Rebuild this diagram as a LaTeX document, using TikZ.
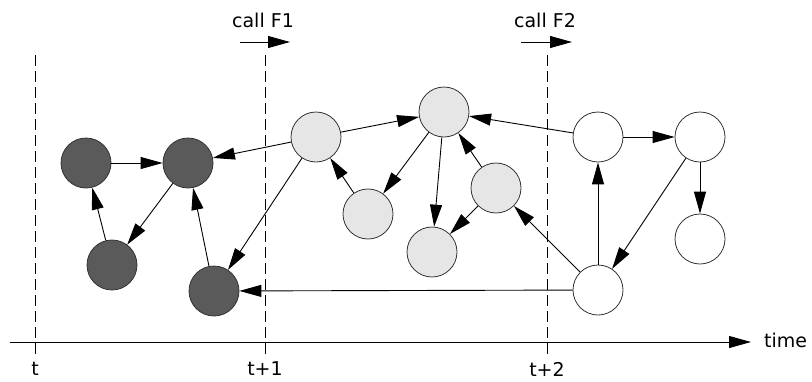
\documentclass[tikz,border=0pt]{standalone}
\usepackage{fontspec}
\setmainfont{DejaVu Sans}
\usetikzlibrary{arrows.meta}
\definecolor{darkfill}{HTML}{5A5A5A}
\definecolor{lightfill}{HTML}{E6E6E6}
\definecolor{rim}{HTML}{333333}
\begin{document}
\begin{tikzpicture}[x=1pt,y=-1pt,
  state/.style={circle,draw=rim,line width=0.8pt,minimum size=50pt,inner sep=0pt},
  done/.style={state,fill=darkfill},
  active/.style={state,fill=lightfill},
  future/.style={state,fill=white},
  link/.style={line width=0.9pt,-{Triangle[length=22pt,width=12pt]}},
  timeline/.style={line width=0.8pt,dash pattern=on 11pt off 5pt},
  lbl/.style={font=\fontsize{19}{21}\selectfont,inner sep=0pt}]
\useasboundingbox (0,0) rectangle (812,381);

% time axis and time marks
\coordinate (axL) at (10,342);
\coordinate (axR) at (751,342);
\draw[link] (axL) -- (axR);
\node[lbl,anchor=west] (time) at (764,340) {time};

\coordinate (m0t) at (35,55);   \coordinate (m0b) at (35,354);
\coordinate (m1t) at (265,55);  \coordinate (m1b) at (265,354);
\coordinate (m2t) at (547,55);  \coordinate (m2b) at (547,354);
\draw[timeline] (m0t) -- (m0b);
\draw[timeline] (m1t) -- (m1b);
\draw[timeline] (m2t) -- (m2b);
\node[lbl] (lt)  at (35,369)  {t};
\node[lbl] (lt1) at (265,369) {t+1};
\node[lbl] (lt2) at (547,369) {t+2};

% function calls
\node[lbl] (callA) at (263,20) {call F1};
\node[lbl] (callB) at (545,20) {call F2};
\coordinate (cAs) at (240,42); \coordinate (cAe) at (290,42);
\coordinate (cBs) at (521,42); \coordinate (cBe) at (572,42);
\draw[link] (cAs) -- (cAe);
\draw[link] (cBs) -- (cBe);

% states before t+1
\node[done] (d1) at (86,163) {};
\node[done] (d2) at (188,163) {};
\node[done] (d3) at (112,265) {};
\node[done] (d4) at (214,291) {};

% states between t+1 and t+2
\node[active] (a1) at (316,137) {};
\node[active] (a2) at (368,214) {};
\node[active] (a3) at (444,112) {};
\node[active] (a4) at (496,188) {};
\node[active] (a5) at (432,252) {};

% states after t+2
\node[future] (f1) at (598,137) {};
\node[future] (f2) at (700,137) {};
\node[future] (f3) at (700,239) {};
\node[future] (f4) at (598,290) {};

% dependencies
\draw[link] (d1) -- (d2);
\draw[link] (d3) -- (d1);
\draw[link] (d2) -- (d3);
\draw[link] (d4) -- (d2);
\draw[link] (a1) -- (d2);
\draw[link] (a1) -- (d4);
\draw[link] (a1) -- (a3);
\draw[link] (a2) -- (a1);
\draw[link] (a3) -- (a2);
\draw[link] (a3) -- (a5);
\draw[link] (a4) -- (a3);
\draw[link] (a4) -- (a5);
\draw[link] (f1) -- (a3);
\draw[link] (f1) -- (f2);
\draw[link] (f2) -- (f3);
\draw[link] (f2) -- (f4);
\draw[link] (f4) -- (f1);
\draw[link] (f4) -- (a4);
\draw[link] (f4) -- (d4);
\end{tikzpicture}
\end{document}
